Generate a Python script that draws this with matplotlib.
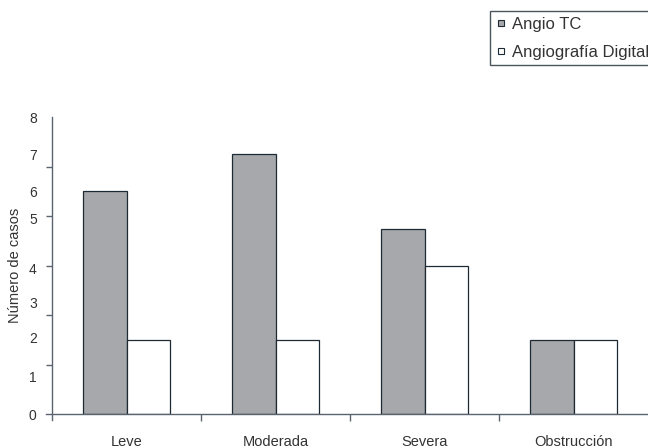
import numpy as np
import matplotlib
matplotlib.use('Agg')
import matplotlib.pyplot as plt
from matplotlib.lines import Line2D

plt.rcParams['font.family'] = ['Liberation Sans', 'DejaVu Sans']

# ═══ Data ═════════════════════════════════════════════════════════════════

categories = ['Leve', 'Moderada', 'Severa', 'Obstrucción']
angio_tc = [6, 7, 5, 2]
angio_digital = [2, 2, 4, 2]
series_names = ['Angio TC', 'Angiografía Digital']

# y labels as printed (label positions in the scan are slightly uneven)
ytick_labels = ['0', '1', '2', '3', '4', '5', '6', '7', '8']
ytick_pos = [0, 1, 2.07, 3, 3.93, 5.26, 6, 7, 8]

# ═══ Figure ═══════════════════════════════════════════════════════════════

fig = plt.figure(figsize=(6.48, 4.48), dpi=100)
ax = fig.add_axes([52 / 648, 34 / 448, 1 - 52 / 648, (414 - 117.3) / 448])

edge = '#1e2a33'
axis_col = '#5a6470'
text_col = '#333333'
grey = '#a7a8ab'

x = np.arange(len(categories))
w = 0.29

ax.bar(x - w, angio_tc, width=w, align='edge', color=grey, edgecolor=edge, linewidth=0.9)
ax.bar(x, angio_digital, width=w, align='edge', color='white', edgecolor=edge, linewidth=0.9)

# ─── Axes

ax.set_xlim(-0.5, 3.5)
ax.set_ylim(0, 8)

for s in ['top', 'right']:
    ax.spines[s].set_visible(False)
for s in ['left', 'bottom']:
    ax.spines[s].set_color(axis_col)
    ax.spines[s].set_linewidth(1.0)
ax.spines['left'].set_bounds(-0.16, 8)
ax.spines['bottom'].set_bounds(-0.54, 3.5)

# x ticks: marks on boundaries, labels at centres
ax.set_xticks(x)
ax.set_xticklabels(categories, fontsize=10.5, color=text_col)
ax.set_xticks(np.arange(1, len(categories)) - 0.5, minor=True)
ax.tick_params(axis='x', which='major', length=0, pad=15)
ax.tick_params(axis='x', which='minor', length=5, color=axis_col, width=1.0)

# y ticks: marks every 8/6, labels as printed
ax.set_yticks(ytick_pos)
ax.set_yticklabels(ytick_labels, fontsize=10, color=text_col)
ax.set_yticks(np.linspace(0, 8, 7), minor=True)
ax.tick_params(axis='y', which='major', length=0, pad=11)
ax.tick_params(axis='y', which='minor', length=4, color=axis_col, width=1.0)

ax.set_ylabel('Número de casos', fontsize=10.5, color=text_col, labelpad=5)

# ─── Legend

handles = [
    Line2D([], [], linestyle='none', marker='s', markersize=4.5,
           markerfacecolor=grey, markeredgecolor=edge, markeredgewidth=0.8),
    Line2D([], [], linestyle='none', marker='s', markersize=4.5,
           markerfacecolor='white', markeredgecolor=edge, markeredgewidth=0.8),
]
leg = fig.legend(handles, series_names, loc='upper left',
                 bbox_to_anchor=(490 / 648, 1 - 11 / 448),
                 fontsize=12, frameon=True, fancybox=False,
                 handlelength=0.62, handletextpad=0.35, borderpad=0.33,
                 labelspacing=0.78, borderaxespad=0)
leg.get_frame().set_edgecolor(edge)
leg.get_frame().set_linewidth(1.0)
for t in leg.get_texts():
    t.set_color(text_col)

fig.savefig('out.png', dpi=100)
